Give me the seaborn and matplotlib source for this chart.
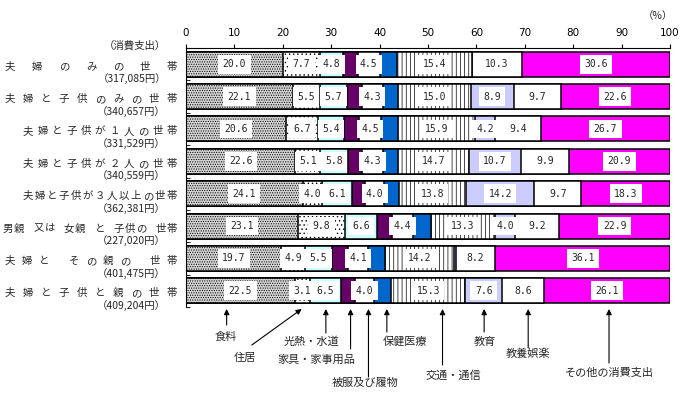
import matplotlib
matplotlib.use("Agg")
import matplotlib.pyplot as plt
import matplotlib.transforms as mtransforms
import pandas as pd
import seaborn as sns

# 世帯の種類（空白は文字間の区切り）
households = ["夫婦のみの世帯", "夫婦と子供のみの世帯", "夫婦と子供が１人の世帯", "夫婦と子供が２人の世帯",
              "夫婦と子供が３人以上の世帯", "男親 又は 女親 と 子供の 世帯", "夫婦と その親の 世帯", "夫婦と子供と親の世帯"]
amounts = ["（317,085円）", "（340,657円）", "（331,529円）", "（340,559円）",
           "（362,381円）", "（227,020円）", "（401,475円）", "（409,204円）"]
categories = ["食料", "住居", "光熱・水道", "家具・家事用品", "被服及び履物",
              "保健医療", "交通・通信", "教育", "教養娯楽", "その他の消費支出"]

food = [20.0, 22.1, 20.6, 22.6, 24.1, 23.1, 19.7, 22.5]
housing = [7.7, 5.5, 6.7, 5.1, 4.0, 9.8, 4.9, 3.1]
utilities = [4.8, 5.7, 5.4, 5.8, 6.1, 6.6, 5.5, 6.5]
furniture = [3.0, 3.0, 3.1, 2.9, 2.8, 3.0, 3.4, 2.8]
clothing = [4.5, 4.3, 4.5, 4.3, 4.0, 4.4, 4.1, 4.0]
health = [3.6, 3.2, 3.5, 3.1, 3.0, 3.7, 3.6, 3.5]
transport = [15.4, 15.0, 15.9, 14.7, 13.8, 13.3, 14.2, 15.3]
education = [0.1, 8.9, 4.2, 10.7, 14.2, 4.0, 0.3, 7.6]
recreation = [10.3, 9.7, 9.4, 9.9, 9.7, 9.2, 8.2, 8.6]
other = [30.6, 22.6, 26.7, 20.9, 18.3, 22.9, 36.1, 26.1]
series = [food, housing, utilities, furniture, clothing, health, transport, education, recreation, other]

# 見た目
faces = ["#d4d4d4", "white", "#ccffff", "#660066", "white", "#0066cc", "white", "#ccccff", "white", "#ff00ff"]
hatches = [".......", "....", None, None, None, None, "||||", None, None, None]
labelled = [True, True, True, False, True, False, True, True, True, True]

sns.set_theme(style="white")
plt.rcParams["font.family"] = ["Noto Sans CJK JP", "DejaVu Sans"]
plt.rcParams["hatch.linewidth"] = 0.5

W, H = 685, 395
fig = plt.figure(figsize=(W / 100, H / 100), dpi=100)
ax = fig.add_axes([186 / W, 1 - 307 / H, 484 / W, 259 / H])

df = pd.DataFrame({c: s for c, s in zip(categories, series)})
df["row"] = households
cum = df[categories].cumsum(axis=1)
cum["row"] = households

# 累積値を大きい方から重ねて描く
for i in range(len(categories) - 1, -1, -1):
    sns.barplot(data=cum, x=categories[i], y="row", order=households, orient="h",
                color=faces[i], hatch=hatches[i], edgecolor="black", linewidth=1.1,
                width=0.77, saturation=1, errorbar=None, ax=ax)

for r in range(len(households)):
    for i, c in enumerate(categories):
        v = df[c][r]
        if not labelled[i] or v < 1:
            continue
        xc = cum[c][r] - v / 2
        ax.text(xc, r, f"{v:.1f}", ha="center", va="center", fontsize=7,
                family="DejaVu Sans Mono",
                bbox=dict(boxstyle="square,pad=0.45", fc="white", ec="none"))

ax.set_xlim(0, 100)
ax.set_ylim(7.5, -0.5)
ax.set_xlabel("")
ax.set_ylabel("")
ax.xaxis.tick_top()
ax.set_xticks(range(0, 101, 10))
ax.tick_params(axis="x", direction="out", length=3, width=0.8, pad=4.5, labelsize=7.5, colors="black")
ax.set_yticks([])
ax.set_yticks([i - 0.5 for i in range(9)], minor=True)
ax.tick_params(axis="y", which="minor", direction="in", length=3, width=0.8, left=True)
for lbl in ax.get_xticklabels():
    lbl.set_family("DejaVu Sans")
for s in ["right", "bottom"]:
    ax.spines[s].set_visible(False)
for s in ["top", "left"]:
    ax.spines[s].set_color("black")
    ax.spines[s].set_linewidth(0.8)

# 行ラベル（1文字ずつ並べる）
trans = mtransforms.blended_transform_factory(fig.transFigure, ax.transData)
lefts = [5, 5, 23, 23, 23, 3, 5, 5]
for r, (name, amt) in enumerate(zip(households, amounts)):
    units, u = [], 0.0
    for ch in name:
        if ch == " ":
            u += 0.75
        else:
            units.append((u, ch))
            u += 1
    last = units[-1][0]
    for u, ch in units:
        xp = lefts[r] + 5 + (177 - lefts[r] - 10) * u / last
        ax.text(xp / W, r + 0.17, ch, transform=trans, ha="center", va="baseline", fontsize=7.5)
    ax.text(166 / W, r + 0.42, amt, transform=trans, ha="right", va="center_baseline", fontsize=7.5)

fig.text(166 / W, 1 - 45 / H, "（消費支出）", ha="right", va="center_baseline", fontsize=7.5)
fig.text(673 / W, 1 - 15 / H, "（%）", ha="right", va="center_baseline", fontsize=7.5)

# 凡例の矢印
arrow_x = [8.4, 23.9, 28.9, 34.0, 37.7, 41.5, 53.0, 61.6, 70.7, 87.4]
tail_x = [8.4, 13.6, 28.9, 34.0, 37.7, 41.5, 53.0, 61.6, 70.7, 87.4]
tail_y = [325, 345, 333, 349, 377, 332, 365, 332, 348, 363]
text_xy = [(226, 336), (245, 357), (311, 341), (316, 359), (365, 382), (405, 341),
           (453, 375), (485, 341), (528, 353), (609, 372)]
for i, c in enumerate(categories):
    ax.annotate("", xy=(arrow_x[i], 1 - 309 / H), xycoords=("data", "figure fraction"),
                xytext=(tail_x[i], 1 - tail_y[i] / H), textcoords=("data", "figure fraction"),
                arrowprops=dict(arrowstyle="-|>", color="black", lw=0.8, mutation_scale=8,
                                shrinkA=0, shrinkB=0),
                annotation_clip=False)
    fig.text(text_xy[i][0] / W, 1 - text_xy[i][1] / H, c, ha="center", va="center_baseline", fontsize=8)

fig.savefig("out.png", dpi=100)
